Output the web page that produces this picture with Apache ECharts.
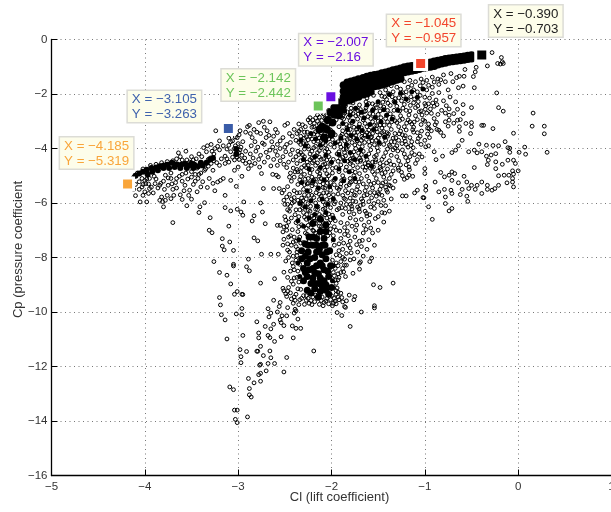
<!DOCTYPE html>
<html><head><meta charset="utf-8">
<script src="https://cdn.jsdelivr.net/npm/echarts@6/dist/echarts.min.js"></script>
<style>html,body{margin:0;padding:0;background:#fff}#c{width:611px;height:512px}</style></head>
<body><div id="c"></div>
<script>
// Values, as flat Cl,Cp pairs.
const lowerScatter=[-3.26,-8.15,-3.2,-8.55,-3.12,-8.65,-3.08,-8.97,-3.05,-8.25,-3.05,-8.31,-2.89,-8.06,-2.91,-8.34,-2.88,-8.49,-2.76,-8.94,-2.61,-8.78,-2.51,-8.54,-3.2,-9.47,-3.19,-9.74,-3.18,-10.1,-3.14,-10.29,-3.01,-9.25,-3.04,-9.35,-2.96,-9.35,-2.95,-9.36,-2.96,-9.87,-3.02,-10.07,-2.96,-10.1,-3.12,-10.99,-2.95,-10.86,-2.8,-10.36,-2.71,-10.53,-2.78,-10.77,-2.78,-10.95,-2.68,-10.86,-2.66,-10.94,-2.61,-11.08,-2.54,-10.91,-2.62,-10.45,-2.65,-10.62,-2.67,-10.18,-2.68,-9.88,-2.65,-10.04,-2.62,-9.57,-2.55,-9.65,-2.56,-9.8,-2.58,-10,-2.53,-10.14,-2.48,-10.14,-2.55,-10.29,-2.54,-10.39,-2.51,-10.5,-2.47,-9.84,-2.52,-9.13,-2.51,-9.22,-2.47,-9.24,-2.48,-9.43,-2.41,-9.68,-2.39,-9.9,-2.4,-10.04,-2.38,-9.96,-2.36,-10.26,-2.42,-10.51,-2.38,-10.6,-2.33,-10.6,-2.41,-10.95,-2.48,-11.67,-2.51,-12.2,-2.98,-11.38,-2.97,-11.64,-2.97,-11.86,-2.91,-11.45,-2.8,-11.44,-2.79,-11.44,-2.76,-11.26,-2.73,-11.6,-2.66,-11.43,-2.65,-11.68,-2.68,-11.89,-2.61,-11.89,-2.76,-11.92,-2.77,-11.95,-2.7,-12.16,-2.76,-12.25,-2.78,-12.3,-2.89,-12.44,-2.83,-12.6,-2.76,-12.54,-2.88,-12.81,-2.88,-13.04,-2.86,-13.12,-3.09,-12.75,-3.05,-12.85,-3.04,-13.6,-3.01,-13.6,-3.03,-13.94,-3.01,-14.06,-2.9,-13.85,-1.86,-8.06,-1.8,-8.09,-1.86,-8.28,-1.84,-8.28,-1.77,-8.58,-1.7,-8.43,-1.7,-8.21,-1.69,-8.16,-1.57,-8.02,-1.59,-8.15,-1.34,-8.94,-1.55,-9,-1.48,-9.1,-1.97,-8.67,-1.96,-8.83,-1.93,-8.82,-1.95,-9.22,-1.9,-9.31,-1.89,-9.47,-1.81,-9.38,-1.75,-9.43,-1.76,-9.55,-1.88,-9.63,-1.84,-9.59,-1.86,-9.8,-1.85,-9.83,-1.54,-9.77,-1.54,-9.85,-1.68,-10,-1.94,-10.02,-1.89,-10.13,-1.8,-10.53,-2.19,-11.43];
const rightScatter=[0.16,-2.7,0.15,-3.18,0.28,-3.18,0.28,-3.46,0.31,-4.14,0.07,-3.95,0.08,-4.21,0.01,-4.14,-0.23,-1.96,-0.21,-2.5,-0.16,-2.63,-0.27,-3.27,-0.05,-3.44,-0.14,-3.75,-0.09,-3.99,-0.09,-4.14,-0.47,-1.77,-0.59,-1.71,-0.64,-1.77,-0.63,-1.35,-0.58,-1.35,-0.48,-1.36,-0.46,-1.19,-0.45,-1.02,-0.57,-1.1,-0.33,-0.97,-0.22,-0.88,-0.18,-0.66,-0.17,-0.82,-0.16,-0.88,-0.19,-0.9,-0.28,-0.48,-0.67,-2.29,-0.59,-2.39,-0.65,-2.56,-0.5,-2.5,-0.59,-2.72,-0.65,-2.96,-0.62,-2.94,-0.69,-2.72,-0.74,-2.78,-0.39,-3.15,-0.37,-3.15,-0.56,-3.08,-0.5,-3.05,-0.5,-3.2,-0.63,-3.2,-0.63,-3.37,-0.74,-2.96,-0.78,-3.02,-0.75,-3.18,-0.8,-3.54,-0.87,-3.3,-0.85,-3.33,-0.51,-3.45,-0.6,-3.7,-0.64,-3.9,-0.67,-4.06,-0.71,-4.15,-0.53,-4.12,-0.47,-4.06,-0.44,-4.16,-0.39,-4.12,-0.42,-3.84,-0.34,-3.88,-0.27,-3.89,-0.21,-3.9,-0.11,-3.97,-0.34,-4.28,-0.29,-4.24,-0.24,-4.19,-0.32,-4.43,-0.33,-4.59,-0.24,-4.49,-0.24,-4.74,-0.17,-4.58,-0.11,-4.43,-0.05,-4.43,-0.03,-4.55,-0.06,-4.82,0,-4.82,-0.05,-4.94,-0.47,-4.7,-0.21,-5,-0.15,-4.98,-0.1,-4.98,-0.06,-5.1,-0.06,-5.23,-0.05,-5.41,-0.12,-5.26,-0.21,-5.35,-0.25,-5.47,-0.28,-5.53,-0.33,-5.35,-0.39,-5.23,-0.44,-5.35,-0.46,-5.5,-0.5,-5.35,-0.55,-5.23,-0.53,-5.47,-0.39,-5.65,-0.33,-5.5,-0.6,-5.5,-0.62,-5.69,-0.55,-5.75,-0.54,-5.94,-0.64,-5.26,-0.58,-5.02,-0.71,-4.86,-0.74,-4.98,-0.68,-4.92,-0.83,-4.88,-0.79,-5.04,-0.71,-5.17,-0.89,-5.23,-0.85,-5.59,-0.78,-5.78,-0.78,-6.02,-0.71,-6.2,-0.74,-6.29,-0.72,-5.53,-0.79,-5.5,-0.71,-5.65,-1.02,-5.8,-1.01,-5.81,-0.96,-6.14,-0.92,-6.6,-0.99,-5.53,-0.99,-5.38,-1.08,-5.53,-1.11,-5.63,-1.2,-5.74,-1.24,-5.74,-1,-4.92,-1,-4.74,-1.17,-4.68,-1.13,-5.02,-1.22,-5.13,-1.17,-4.98,-0.9,-4.12,-0.81,-4.28,-0.88,-4.41,-0.99,-3.94,-1.03,-4.31,-1.08,-4.41,-1.06,-4.2,-0.95,-3.6,-0.93,-3.35,-0.97,-3.25,-1.05,-3.55,-1.08,-3.42];
const wingScatter=[-4.1,-5.73,-4.05,-5.96,-3.98,-5.96,-4.03,-5.41,-3.99,-5.29,-3.95,-5.47,-3.91,-5.63,-4,-5.59,-3.96,-5.65,-3.89,-5.29,-4,-5.17,-4.06,-5.5,-4.02,-5.72,-3.93,-5.42,-3.82,-5.78,-3.78,-5.9,-3.8,-6.14,-3.72,-5.84,-3.76,-5.72,-3.69,-5.72,-3.84,-5.9,-3.81,-5.95,-3.7,-6.72,-3.6,-5.87,-3.5,-5.86,-3.55,-6.1,-3.41,-6.14,-3.42,-6.35,-3.36,-5.99,-3.3,-6.54,-3.31,-7,-3.28,-7.09,-3.17,-7.31,-3.17,-7.58,-3.15,-7.72,-3.09,-7.43,-3.05,-7.74,-3.1,-6.85,-3.14,-6.17,-3.08,-6.29,-3.01,-6.23,-2.97,-6.33,-2.95,-6.45,-2.94,-5.96,-3.14,-5.72,-3.25,-5.55,-3.02,-5.39,-3.08,-5.17,-3.19,-5.17,-3.22,-5.23,-3.16,-5.1,-3.27,-4.8,-3.33,-5.43,-3.4,-5.41,-3.44,-5.59,-3.52,-5.53,-2.85,-6.66,-2.83,-6.47,-2.74,-6.33,-2.76,-6,-2.71,-6.76,-2.58,-6.82,-2.55,-6.82,-2.52,-7.06,-2.83,-7.28,-2.79,-7.39,-2.65,-7.88,-2.75,-7.88,-2.52,-7.55,-2.57,-7.88,-2.51,-5.9,-2.5,-6.05,-2.73,-5.47,-2.62,-5.47,-2.56,-5.47,-2.51,-5.53,-2.53,-5.63,-2.48,-5.78,-2.75,-4.92,-2.65,-4.64,-2.63,-4.95,-2.59,-4.98,-2.57,-5.04,-2.51,-4.58,-2.44,-4.9,-2.39,-4.86,-2.89,-4.74,-3,-4.68,-2.96,-5.02,-3.04,-4.8,-3.1,-4.5,-3.14,-4.55,-3.2,-4.62,-3.26,-4.45,-3.32,-4.4,-3.38,-4.6,-3.44,-4.72,-3.42,-4.95,-3.5,-5.05,-3.56,-4.9,-3.6,-5.2,-3.66,-5.1,-3.71,-5.3,-3.75,-5.08,-3.8,-5.2,-3.84,-5.35,-3.66,-5.45,-3.58,-5.55,-3.48,-5.32,-3.38,-5.22,-3.31,-5.1,-3.27,-5.28,-3.72,-4.9,-3.78,-4.98,-3.9,-5.02,-3.95,-5.1,-4.03,-5.1,-4.06,-5.22,-4.1,-5.32,-4.12,-5.5,-3.62,-5.7,-3.53,-5.72,-3.46,-5.2,-3.36,-4.8,-3.42,-4.2,-3.37,-3.97,-3.33,-3.9,-3.29,-3.85,-3.25,-4,-3.2,-3.72,-3.24,-3.35,-3.14,-3.45,-3.1,-3.88,-3.06,-3.72,-3.04,-4,-3.01,-3.6,-2.98,-3.35,-2.95,-3.75,-2.9,-3.2,-2.88,-3.15,-2.92,-4.1,-2.85,-3.6,-2.8,-3.4,-2.78,-3.05,-2.73,-3,-2.72,-3.22,-2.66,-3.02,-2.69,-3.35,-2.74,-3.8,-2.82,-3.75,-2.64,-3.75,-2.6,-3.3,-2.52,-3.6,-2.5,-3.15,-2.47,-3.08,-2.44,-3.78,-2.38,-3.7,-2.33,-3.85,-2.29,-4.02,-2.93,-4.35,-2.87,-4.2,-2.81,-4.1,-2.76,-4.25,-2.7,-4.14,-2.66,-4.06,-2.6,-4.1,-2.55,-4,-2.49,-4.12,-2.44,-4.22,-2.38,-4.3,-3.02,-4.22,-3.08,-4.12,-3.14,-4.28,-3.2,-4.05,-3.26,-4.2,-3.3,-4.35,-3.45,-4.38,-3.5,-4.3,-3.55,-4.42,-3.62,-4.3,-3.64,-4.16,-3.56,-4.1,-2.98,-4.05,-2.99,-4.4,-2.95,-4.45,-3.04,-4.42,-2.88,-4.5,-2.82,-4.55,-2.72,-4.5,-2.62,-4.4,-2.55,-4.45,-2.46,-4.5,-2.37,-4.55,-2.32,-4.7,-2.34,-5.15,-2.3,-5.5,-2.26,-5.3,-2.4,-5.55,-2.43,-5.2,-2.47,-5.4];
const wingDense=[-3.98,-5.12,-3.96,-5.3,-4.02,-5.32,-3.88,-5.12,-3.86,-5.45,-3.83,-5.28,-3.79,-5.5,-3.75,-5.35,-3.72,-5.1,-3.7,-5.5,-3.67,-5.25,-3.63,-5.02,-3.6,-4.95,-3.57,-5.35,-3.54,-5.12,-3.5,-4.85,-3.46,-4.95,-3.43,-5.1,-3.4,-4.9,-3.35,-4.75,-3.32,-4.65,-3.29,-4.55,-3.23,-4.52,-3.18,-4.38,-3.12,-4.38,-3.06,-4.32,-3.01,-4.32,-2.99,-4.15,-2.96,-4.25,-3.03,-3.9,-3,-3.82,-2.97,-3.95,-3.12,-4.02,-3.16,-3.9,-3.22,-3.92,-3.28,-4.1,-3.34,-4.12,-3.39,-4.3,-3.48,-4.42,-3.52,-4.5,-3.6,-4.42,-3.66,-4.38,-3.7,-4.45,-3.76,-4.48,-3.82,-4.52,-3.88,-4.58,-3.94,-4.62,-4.02,-4.75,-4.08,-4.9,-4.12,-5.05,-3.08,-3.75,-3.03,-3.58,-3.1,-3.62,-2.99,-3.5,-2.92,-3.4,-2.87,-3.45,-2.83,-3.3,-2.76,-3.45,-2.7,-3.6,-2.67,-3.52,-2.62,-3.55,-2.58,-3.42,-2.55,-3.72,-2.48,-3.85,-2.42,-3.55,-2.37,-3.45,-2.86,-3.9,-2.79,-3.95,-2.72,-3.85,-2.63,-3.95,-2.58,-3.85,-2.5,-3.95,-2.42,-4.05,-2.36,-4.1,-2.84,-4.35,-2.78,-4.4,-2.68,-4.32,-2.58,-4.25,-2.52,-4.3,-2.41,-4.42,-2.35,-4.22,-2.92,-4.55,-2.86,-4.62,-2.77,-4.68,-2.58,-4.62,-2.48,-4.7,-2.41,-4.72,-2.36,-4.85,-2.45,-5.05,-2.4,-5.05,-2.36,-5.32,-2.32,-5.82,-2.45,-5.68,-2.4,-5.95,-2.44,-6.12,-2.38,-6.25,-2.43,-6.55,-2.38,-6.72,-2.47,-6.25,-2.48,-6.85,-2.42,-6.98,-2.46,-7.25,-2.4,-7.25,-2.43,-7.55,-2.38,-7.6,-2.41,-7.95];
const fanScatter=[-1.84,-2.15,-1.8,-2.3,-1.75,-2.55,-1.7,-2.4,-1.65,-2.65,-1.6,-2.35,-1.55,-2.55,-1.5,-2.75,-1.45,-2.3,-1.4,-2.6,-1.35,-2.1,-1.3,-2.45,-1.25,-2.25,-1.2,-2.6,-1.15,-2.1,-1.1,-2.5,-1.05,-2.05,-1,-2.35,-0.95,-2.15,-0.9,-2.45,-0.85,-1.95,-0.8,-2.25,-0.75,-1.85,-0.7,-1.55,-0.78,-1.55,-0.85,-1.65,-0.92,-1.75,-0.98,-1.85,-1.05,-1.7,-1.12,-1.85,-1.18,-1.75,-1.24,-1.95,-0.66,-1.4,-0.72,-1.25,-0.8,-1.3,-0.86,-1.45,-0.92,-1.38,-0.98,-1.5,-1.04,-1.45,-1.1,-1.55,-1.16,-1.5,-1.22,-1.55,-1.3,-1.75,-1.36,-1.7,-1.42,-1.85,-1.48,-1.95,-1.55,-2.05,-1.62,-2.15,-1.68,-2.05,-1.74,-2.1,-1.86,-2.7,-1.82,-2.85,-1.78,-3.05,-1.74,-2.8,-1.7,-3.1,-1.66,-2.95,-1.62,-3.2,-1.58,-2.9,-1.54,-3.15,-1.5,-3,-1.46,-3.25,-1.42,-2.9,-1.38,-3.15,-1.34,-2.85,-1.3,-3.05,-1.26,-2.8,-1.22,-3.2,-1.18,-2.95,-1.14,-3.1,-1.1,-2.8,-1.06,-2.65,-1.02,-2.95,-0.98,-2.7,-0.94,-2.55,-0.9,-2.9,-0.86,-2.75,-0.82,-2.6,-0.78,-2.7,-0.74,-2.55,-1.88,-3.35,-1.84,-3.5,-1.8,-3.3,-1.76,-3.6,-1.72,-3.4,-1.68,-3.7,-1.64,-3.5,-1.6,-3.75,-1.56,-3.45,-1.52,-3.7,-1.48,-3.5,-1.44,-3.85,-1.4,-3.55,-1.36,-3.75,-1.32,-3.45,-1.28,-3.7,-1.24,-3.5,-1.2,-3.85,-1.16,-3.6,-1.12,-3.4,-1.08,-3.75,-1.04,-3.85,-1,-3.7,-0.96,-3.9,-1.9,-3.95,-1.86,-4.15,-1.82,-3.9,-1.78,-4.25,-1.74,-4,-1.7,-4.35,-1.66,-4.1,-1.62,-4.4,-1.58,-4.05,-1.54,-4.3,-1.5,-4.1,-1.46,-4.4,-1.42,-4.15,-1.38,-4.45,-1.34,-4.05,-1.3,-4.3,-1.26,-4.6,-1.22,-4.2,-1.18,-4.45,-1.14,-4.15,-1.1,-4.55,-1.9,-4.6,-1.85,-4.8,-1.8,-4.55,-1.76,-5,-1.72,-4.7,-1.68,-5.1,-1.64,-4.8,-1.6,-5.2,-1.56,-4.85,-1.52,-5.1,-1.48,-4.7,-1.44,-5.05,-1.4,-4.75,-1.36,-4.95,-1.32,-5.2,-1.28,-4.8,-1.24,-5,-1.9,-5.3,-1.85,-5.55,-1.8,-5.25,-1.76,-5.7,-1.72,-5.4,-1.68,-5.85,-1.64,-5.55,-1.6,-5.95,-1.56,-5.45,-1.52,-5.75,-1.48,-5.5,-1.44,-5.9,-1.4,-5.6,-1.36,-5.85,-1.34,-5.45,-1.9,-6,-1.85,-6.2,-1.8,-6.05,-1.76,-6.4,-1.72,-6.15,-1.68,-6.6,-1.64,-6.3,-1.6,-6.7,-1.54,-6.2,-1.5,-6.5,-1.46,-6.35,-1.42,-6.1,-1.38,-6.3,-1.44,-6.7,-1.5,-7,-1.56,-7.1,-1.6,-7.35,-1.66,-7.1,-1.7,-7.4,-1.74,-7,-1.78,-6.85,-1.82,-7.2,-1.86,-6.9,-1.9,-7.3,-1.54,-7.55,-1.62,-7.7,-1.72,-7.8,-1.8,-7.65,-1.66,-7.95,-1.76,-8.05,-1.92,-7.75,-1.88,-8,-1.93,-8.3,-1.9,-8.55,-1.85,-8.7,-1.97,-9.5,-1.92,-9.55,-1.98,-9.68,-2.03,-9.7,-2.08,-9.65,-2.13,-9.72,-2.18,-9.62,-2.24,-9.68,-2.29,-9.72,-2.34,-9.55,-2.4,-9.45,-2.44,-9.3,-2.46,-9.1,-2.4,-8.75,-2.44,-8.5,-2.42,-8.2,-2.46,-8,-2.45,-7.8,-2.47,-7.5,-2.44,-7.2,-2.48,-7,-2.46,-6.7,-2.5,-6.5,-2.45,-6.3,-2.42,-6,-2.4,-5.8,-2.36,-5.9,-2.3,-6.1,-2.35,-6.5,-2.32,-6.8,-2.36,-7.05,-2.38,-7.4,-2.37,-7.8,-2.38,-8.1,-2.36,-8.5,-2.35,-8.9,-2.3,-9.4,-2.25,-9.5,-2.2,-9.45,-2.15,-9.5,-2.1,-9.45,-2.05,-9.5,-2,-9.4,-1.95,-9.35,-1.98,-9.1,-1.95,-8.95,-1.98,-8.55,-1.96,-8.4,-1.99,-8.1,-1.95,-7.9,-1.97,-7.55,-1.98,-7.2,-1.95,-7,-1.96,-6.65,-1.99,-6.45,-1.94,-6.25,-1.96,-5.95,-1.98,-5.7,-1.94,-5.45,-1.97,-5.15,-1.99,-4.9,-1.95,-4.7,-1.98,-4.4,-1.94,-4.2,-1.97,-3.95,-1.93,-3.75,-1.96,-3.5,-1.92,-3.2,-1.95,-2.95,-1.91,-2.75,-2.02,-7.1,-2.05,-6.9,-2.09,-7.15,-2.13,-6.85,-2.17,-7.1,-2.22,-6.9,-2.26,-7.15,-2.3,-7.45,-2.03,-6.4,-2.07,-6.2,-2.11,-6.5,-2.15,-6.25,-2.19,-6.55,-2.23,-6.3,-2.27,-6.6,-2.3,-6.35,-2.03,-5.7,-2.07,-5.45,-2.11,-5.75,-2.15,-5.5,-2.19,-5.8,-2.23,-5.55,-2.27,-5.85,-2.03,-5,-2.07,-4.8,-2.11,-5.1,-2.15,-4.85,-2.19,-5.15,-2.23,-4.9,-2.27,-4.7,-2.03,-4.3,-2.07,-4.1,-2.11,-4.4,-2.15,-4.15,-2.19,-4.45,-2.23,-4.2,-2.26,-4.5,-2.03,-3.65,-2.07,-3.45,-2.11,-3.7,-2.15,-3.5,-2.19,-3.75,-2.23,-3.55,-2.26,-3.4,-2.03,-3.1,-2.07,-2.9,-2.11,-3.15,-2.15,-3,-2.19,-3.2,-2.23,-3.05,-2.03,-2.6,-2.08,-2.75,-2.13,-2.85,-2.28,-3.2,-2.35,-3.1,-2.2,-2.95,-2.4,-3.3,-2.45,-3.45];
const fanDense=[-1.88,-2.52,-1.83,-2.66,-1.79,-2.52,-1.77,-2.72,-1.72,-2.6,-1.68,-2.78,-1.63,-2.5,-1.59,-2.72,-1.56,-2.36,-1.52,-2.5,-1.48,-2.62,-1.44,-2.48,-1.41,-2.2,-1.37,-2.42,-1.33,-2.6,-1.28,-2.14,-1.27,-2.62,-1.22,-2.38,-1.18,-2.24,-1.16,-2.62,-1.12,-2.32,-1.07,-2.28,-1.04,-2.62,-1,-2.12,-0.96,-2.36,-0.92,-1.98,-0.88,-2.22,-1.46,-2.08,-1.39,-1.98,-1.34,-1.92,-1.26,-1.82,-1.2,-1.92,-1.14,-1.68,-1.08,-1.92,-1.02,-1.58,-0.96,-1.68,-0.9,-1.56,-0.83,-1.48,-1.87,-2.92,-1.84,-3.12,-1.8,-2.98,-1.76,-3.22,-1.72,-2.92,-1.68,-3.24,-1.64,-3.08,-1.6,-3.32,-1.56,-3.02,-1.52,-3.28,-1.48,-3.14,-1.44,-3.38,-1.4,-3.02,-1.36,-3.3,-1.32,-2.98,-1.28,-3.2,-1.24,-2.92,-1.2,-3.32,-1.16,-3.02,-1.12,-3.22,-1.08,-2.94,-1.04,-3.12,-1,-3,-0.96,-3.1,-1.9,-3.55,-1.86,-3.72,-1.82,-3.42,-1.78,-3.78,-1.74,-3.52,-1.7,-3.82,-1.66,-3.62,-1.62,-3.42,-1.58,-3.6,-1.54,-3.86,-1.5,-3.62,-1.46,-3.42,-1.42,-3.7,-1.38,-3.88,-1.34,-3.62,-1.3,-3.9,-1.26,-3.36,-1.22,-3.62,-1.18,-3.95,-1.14,-3.75,-1.92,-4.12,-1.88,-4.32,-1.84,-4.02,-1.8,-4.4,-1.76,-4.12,-1.72,-4.5,-1.68,-4.22,-1.64,-4.55,-1.6,-4.2,-1.56,-4.5,-1.52,-4.25,-1.48,-4.55,-1.44,-4.3,-1.4,-4.02,-1.36,-4.25,-1.32,-3.98,-1.28,-4.45,-1.24,-4.05,-1.2,-4.6,-1.16,-4.3,-1.92,-4.85,-1.88,-5,-1.84,-4.68,-1.8,-5.1,-1.78,-4.82,-1.74,-5.22,-1.7,-4.92,-1.66,-5.3,-1.62,-5.02,-1.58,-5.32,-1.54,-4.95,-1.5,-5.25,-1.46,-4.92,-1.42,-5.22,-1.38,-5.1,-1.34,-4.82,-1.92,-5.5,-1.88,-5.72,-1.84,-5.38,-1.8,-5.82,-1.78,-5.55,-1.74,-5.95,-1.7,-5.6,-1.66,-6.05,-1.62,-5.7,-1.58,-6.15,-1.54,-5.62,-1.5,-5.95,-1.46,-5.72,-1.42,-5.42,-1.92,-6.2,-1.88,-6.42,-1.84,-6.05,-1.8,-6.55,-1.78,-6.22,-1.74,-6.62,-1.7,-6.32,-1.65,-6.82,-1.62,-6.48,-1.58,-6.92,-1.9,-6.72,-1.86,-7.15,-1.83,-6.75,-1.8,-7.4,-1.75,-7.25,-1.68,-7.6,-1.92,-7.5,-1.88,-7.7,-1.84,-7.85,-1.82,-7.55,-1.9,-8.15,-1.88,-8.4,-2.01,-2.82,-2.05,-3.02,-2.09,-2.72,-2.13,-3.1,-2.17,-2.88,-2.21,-3.22,-2.25,-2.95,-2.29,-3.4,-2.33,-3.3,-2.01,-3.32,-2.05,-3.58,-2.09,-3.32,-2.13,-3.62,-2.17,-3.38,-2.21,-3.65,-2.25,-3.68,-2.29,-3.62,-2.33,-3.55,-2.01,-3.85,-2.05,-4.02,-2.09,-3.82,-2.13,-4.08,-2.17,-3.92,-2.21,-4.1,-2.25,-3.92,-2.3,-3.82,-2.33,-4.15,-2.01,-4.55,-2.05,-4.42,-2.09,-4.6,-2.13,-4.32,-2.17,-4.62,-2.21,-4.35,-2.25,-4.62,-2.29,-4.3,-2.33,-4.45,-2.01,-5.25,-2.05,-5.12,-2.09,-5.3,-2.13,-5.02,-2.17,-5.32,-2.21,-5.05,-2.25,-5.1,-2.29,-4.95,-2.33,-4.85,-2.01,-5.9,-2.05,-5.62,-2.09,-5.95,-2.13,-5.68,-2.17,-6,-2.21,-5.72,-2.25,-6.02,-2.29,-5.7,-2.34,-5.62,-2.01,-6.62,-2.05,-6.55,-2.09,-6.72,-2.13,-6.42,-2.17,-6.75,-2.21,-6.48,-2.25,-6.82,-2.29,-6.52,-2.34,-6.25,-2.01,-6.95,-2.04,-7.2,-2.1,-6.95,-2.15,-7.2,-2.2,-7,-2.24,-7.4,-2.28,-7.1,-2.34,-7.25,-2.36,-7.7,-2.34,-8.25,-2.4,-8.45,-2.41,-8.98,-2.36,-9.15,-2.38,-9.35,-2.32,-9.5,-2.27,-9.4,-2.22,-9.58,-2.17,-9.38,-2.11,-9.58,-2.06,-9.6,-2.01,-9.55,-1.96,-9.6,-1.93,-9.45,-1.94,-9.12,-1.93,-8.6,-1.95,-8.2];
const fanExtra=[-1.93,-2.61,-1.89,-2.87,-1.85,-2.43,-1.81,-3.17,-1.77,-2.33,-1.73,-3.29,-1.69,-2.57,-1.67,-3.43,-1.63,-2.29,-1.61,-2.83,-1.57,-3.57,-1.53,-2.41,-1.51,-3.39,-1.47,-2.87,-1.43,-2.11,-1.39,-3.47,-1.37,-2.73,-1.33,-2.27,-1.31,-3.61,-1.27,-2.97,-1.23,-2.07,-1.21,-3.53,-1.17,-2.77,-1.13,-3.31,-1.11,-2.19,-1.07,-3.63,-1.03,-2.77,-0.99,-2.43,-0.97,-3.47,-0.93,-2.71,-0.89,-3.13,-0.87,-2.39,-0.83,-3.41,-0.77,-2.43,-0.73,-2.11,-0.69,-3.07,-1.91,-3.83,-1.87,-4.03,-1.83,-3.67,-1.79,-4.47,-1.75,-3.87,-1.71,-4.17,-1.67,-3.93,-1.63,-4.69,-1.59,-3.89,-1.55,-4.67,-1.51,-3.97,-1.47,-4.77,-1.43,-3.59,-1.41,-4.53,-1.37,-3.93,-1.33,-4.61,-1.29,-4.09,-1.25,-4.87,-1.21,-3.73,-1.19,-5.07,-1.15,-3.89,-1.11,-4.23,-1.93,-4.47,-1.89,-5.17,-1.85,-4.27,-1.81,-5.33,-1.77,-4.63,-1.73,-5.51,-1.69,-4.47,-1.65,-5.73,-1.61,-4.61,-1.57,-5.81,-1.53,-4.49,-1.49,-5.67,-1.45,-5.27,-1.41,-5.53,-1.37,-5.37,-1.93,-5.67,-1.89,-6.17,-1.85,-5.87,-1.81,-6.33,-1.77,-5.93,-1.73,-6.81,-1.69,-6.09,-1.63,-6.97,-1.59,-6.43,-1.53,-6.57,-1.47,-6.09,-1.43,-6.37,-1.91,-7.03,-1.87,-7.47,-1.83,-7.03,-1.79,-7.83,-1.73,-7.53,-1.67,-7.37,-1.91,-7.93,-1.87,-8.53,-1.92,-8.73,-1.93,-9.27,-2.35,-3.37,-2.31,-3.13,-2.27,-3.57,-2.23,-2.87,-2.19,-3.47,-2.15,-2.77,-2.11,-3.43,-2.07,-3.19,-2.03,-2.87,-1.99,-3.67,-2.35,-3.77,-2.31,-4.23,-2.27,-3.83,-2.23,-4.41,-2.19,-3.97,-2.15,-4.53,-2.11,-3.97,-2.07,-4.57,-2.03,-4.13,-1.99,-4.73,-2.37,-4.77,-2.33,-5.03,-2.29,-4.63,-2.25,-5.27,-2.21,-4.77,-2.17,-5.13,-2.13,-4.77,-2.09,-5.43,-2.05,-4.93,-2.01,-5.53,-1.97,-5.33,-2.37,-5.63,-2.33,-5.97,-2.29,-5.33,-2.25,-6.27,-2.21,-5.37,-2.17,-6.23,-2.13,-5.87,-2.09,-6.23,-2.05,-5.87,-2.01,-6.17,-1.97,-6.03,-2.39,-6.43,-2.35,-6.87,-2.31,-6.17,-2.27,-6.93,-2.23,-6.67,-2.19,-7.03,-2.15,-6.57,-2.11,-6.87,-2.07,-6.43,-2.03,-6.73,-1.97,-6.87,-2.41,-7.43,-2.37,-7.93,-2.33,-7.47,-2.41,-8.33,-2.37,-8.73,-2.33,-9.17,-2.43,-8.87,-2.39,-9.57,-2.35,-9.73,-2.27,-9.57,-2.21,-9.73,-2.09,-9.77,-1.99,-9.77,-1.95,-9.7,-2.43,-5.85,-2.47,-6.05,-2.49,-6.63,-2.51,-6.88,-2.47,-7.73,-2.51,-7.33,-2.49,-8.13,-2.47,-8.73,-2.43,-9.52,-2.49,-9.33];
const fanFill=[-1.875,-2.77,-1.835,-3.24,-1.795,-2.66,-1.755,-3.42,-1.715,-2.74,-1.675,-3.56,-1.635,-2.62,-1.595,-3.48,-1.555,-2.74,-1.515,-3.16,-1.475,-2.44,-1.435,-3.14,-1.395,-2.34,-1.355,-3.02,-1.315,-2.17,-1.275,-3.46,-1.235,-2.52,-1.195,-3.07,-1.155,-2.42,-1.115,-3.03,-1.075,-2.44,-1.035,-3.36,-0.995,-2.56,-0.955,-3.27,-0.915,-2.33,-0.875,-3.04,-1.885,-3.48,-1.845,-3.96,-1.805,-3.63,-1.765,-4.34,-1.725,-3.72,-1.685,-4.42,-1.645,-3.78,-1.605,-4.52,-1.565,-3.72,-1.525,-4.41,-1.485,-3.83,-1.445,-4.62,-1.405,-3.42,-1.365,-4.58,-1.325,-3.76,-1.285,-4.72,-1.245,-3.82,-1.205,-4.33,-1.165,-4.78,-1.125,-3.97,-1.905,-4.37,-1.865,-5.12,-1.825,-4.47,-1.785,-5.22,-1.745,-4.87,-1.705,-5.23,-1.665,-4.68,-1.625,-5.42,-1.585,-4.72,-1.545,-5.27,-1.505,-4.83,-1.465,-5.37,-1.425,-4.88,-1.385,-5.34,-1.905,-5.42,-1.865,-5.83,-1.825,-5.63,-1.785,-6.12,-1.745,-5.72,-1.705,-6.22,-1.665,-5.93,-1.625,-6.38,-1.585,-5.62,-1.545,-6.02,-1.505,-5.62,-2.185,-3.08,-2.145,-3.73,-2.105,-2.97,-2.065,-3.87,-2.025,-3.38,-2.245,-4.02,-2.205,-4.52,-2.165,-4.27,-2.125,-4.93,-2.085,-4.38,-2.045,-4.67,-2.285,-5.13,-2.245,-5.72,-2.205,-5.27,-2.165,-5.62,-2.125,-5.22,-2.085,-5.63,-2.045,-5.27,-2.305,-5.92,-2.265,-6.42,-2.225,-6.12,-2.185,-6.67,-2.145,-6.13,-2.105,-6.63,-2.065,-6.07];
const denseFan=[-1.86,-2.62,-1.8,-2.78,-1.74,-2.52,-1.68,-2.67,-1.62,-2.4,-1.56,-2.6,-1.5,-2.28,-1.44,-2.58,-1.38,-2.02,-1.32,-2.3,-1.26,-1.97,-1.2,-2.18,-1.14,-1.92,-1.08,-2.12,-1.02,-1.82,-1.88,-3.08,-1.83,-3.3,-1.77,-3,-1.71,-3.22,-1.65,-2.88,-1.59,-3.12,-1.53,-2.86,-1.47,-3.02,-1.41,-2.78,-1.35,-2.92,-1.29,-2.6,-1.9,-3.62,-1.84,-3.85,-1.79,-3.52,-1.73,-3.65,-1.67,-3.34,-1.61,-3.57,-1.55,-3.3,-1.49,-3.78,-1.43,-3.58,-1.92,-4.22,-1.86,-4.45,-1.8,-4.15,-1.75,-4.4,-1.69,-4.05,-1.63,-4.28,-1.57,-4.65,-1.92,-4.75,-1.87,-5.18,-1.81,-4.85,-1.75,-5.1,-2.33,-3.7,-2.28,-3.9,-2.22,-3.45,-2.17,-3.65,-2.12,-3.88,-2.06,-3.72,-2,-3.55,-1.96,-3.8,-2.3,-4.4,-2.24,-4.75,-2.18,-4.3,-2.12,-4.7,-2.06,-4.25,-2,-4.5,-2.32,-5.25,-2.26,-5.55,-2.2,-5.2,-2.14,-5.45,-2.08,-5.15,-2.02,-5.4,-1.96,-5.1,-2.34,-6.02,-2.28,-6.15,-2.22,-5.92,-2.16,-6.12,-2.1,-5.85,-2.04,-6.05,-1.98,-5.85,-2.36,-6.65,-2.3,-6.85,-2.24,-6.55,-2.18,-6.42,-2.06,-6.35,-1.98,-6.55,-2.35,-7.35,-1.98,-7.35,-2.36,-8.2,-1.98,-8.3,-2.34,-8.7,-1.99,-8.85];
const denseBand=[-1.87,-1.68,-1.83,-1.58,-1.79,-1.54,-1.75,-1.5,-1.71,-1.46,-1.66,-1.41,-1.62,-1.37,-1.58,-1.33,-1.54,-1.3,-1.5,-1.28,-1.46,-1.24,-1.42,-1.21,-1.38,-1.17,-1.34,-1.13,-1.3,-1.1,-1.26,-1.06,-1.22,-1.02,-1.18,-0.99,-1.14,-0.97,-1.1,-0.95,-1.06,-0.92,-1.02,-0.88,-0.98,-0.86,-0.94,-0.84,-0.9,-0.81,-0.86,-0.78,-0.82,-0.75,-0.78,-0.72,-0.74,-0.7,-0.7,-0.68,-0.66,-0.66,-0.62,-0.64,-0.58,-0.62,-0.54,-0.6,-0.5,-0.58,-1.87,-1.9,-1.83,-1.8,-1.79,-1.76,-1.75,-1.72,-1.71,-1.68,-1.66,-1.63,-1.62,-1.59,-1.58,-1.55,-1.54,-1.52,-1.5,-1.5,-1.46,-1.46,-1.42,-1.43,-1.38,-1.39,-1.34,-1.35,-1.3,-1.3,-1.26,-1.25,-1.22,-1.2,-1.18,-1.17,-1.14,-1.15,-1.1,-1.12,-1.06,-1.08,-1.02,-1.04,-0.98,-1.02,-0.94,-1,-0.9,-0.97,-0.86,-0.92,-0.82,-0.88,-0.78,-0.85,-0.74,-0.82,-0.7,-0.8,-0.66,-0.78,-0.62,-0.76,-0.58,-0.74,-0.54,-0.72,-0.5,-0.7,-1.87,-2.12,-1.83,-2.02,-1.79,-1.98,-1.75,-1.94,-1.71,-1.9,-1.66,-1.85,-1.62,-1.8,-1.58,-1.75,-1.54,-1.72,-1.5,-1.7,-1.46,-1.66,-1.42,-1.62,-1.38,-1.56,-1.34,-1.52,-1.3,-1.48,-1.26,-1.44,-1.87,-2.34,-1.83,-2.24,-1.79,-2.2,-1.75,-2.14,-1.71,-2.1,-1.66,-2.02,-1.62,-1.98,-1.58,-1.92,-1.93,-2.3,-1.93,-2.55,-1.97,-2.5,-1.92,-2.78,-1.97,-2.75,-2.01,-2.68,-1.88,-2.55,-2.04,-2.95,-1.99,-3.05,-2.05,-3.3,-2.1,-3.2,-2,-3.45,-2.08,-3.6,-2.13,-3.3];
const denseCore=[-2.3,-8.4,-2.26,-8.7,-2.22,-8.95,-2.18,-9.15,-2.12,-9.25,-2.06,-9.2,-2,-9.1,-2.26,-8.2,-2.2,-8.4,-2.14,-8.6,-2.08,-8.85,-2.2,-8.75,-2.14,-8.95,-2.08,-8.45,-2.03,-8.7,-2.25,-7.8,-2.18,-8,-2.12,-8.2,-2.06,-8.05,-2.01,-8.3,-2.28,-7.5,-2.2,-7.55,-2.13,-7.7,-2.07,-7.55,-2.02,-7.75,-2.24,-7.25,-2.16,-7.3,-2.08,-7.3,-2.32,-8.05,-2.32,-7.75,-2.3,-8.85,-2.26,-9.2,-2.03,-9.35,-2.14,-9.45,-2.28,-8.55,-2.24,-8.45,-2.16,-8.3,-2.1,-8.3,-2.23,-8.05,-2.16,-7.8,-2.1,-7.9,-2.04,-8.5,-2.18,-8.55,-2.12,-8.75,-2.06,-9,-2.18,-8.95,-2.22,-9.3,-2.1,-9.05,-2.25,-7.55,-2.16,-7.55,-2.1,-7.55,-2.05,-7.8,-2.28,-7.95,-2.2,-7.25,-2.12,-7.05,-2.06,-7.05,-2.2,-6.75,-2.12,-6.6,-2.06,-6.8];
const wingBand=[-4.1,-5,-4.06,-4.92,-4.02,-4.85,-3.98,-4.78,-3.93,-4.72,-3.88,-4.7,-3.84,-4.65,-3.8,-4.62,-3.76,-4.6,-3.71,-4.52,-3.66,-4.58,-3.61,-4.6,-3.57,-4.56,-3.53,-4.62,-3.74,-4.72,-3.68,-4.68,-3.86,-4.8,-3.97,-4.95,-3.43,-4.65,-3.38,-4.62,-3.3,-4.4,-3.27,-4.35,-3.5,-4.55,-3.92,-4.85,-3.8,-4.72,-3.62,-4.72,-3.55,-4.72,-3.47,-4.6,-3.4,-4.52,-3.34,-4.52,-3.48,-4.72,-3.02,-4.02,-3.02,-4.2];
const markerCl=[-4.185,-3.105,-2.142,-2.007,-1.045,-0.39];
const markerCp=[-5.3,-3.263,-2.442,-2.1,-0.88,-0.57];
const markerXText=['−4.185','−3.105','−2.142','−2.007','−1.045','−0.390'];
const markerYText=['−5.319','−3.263','−2.442','−2.16','−0.957','−0.703'];
const markerColors=['#f9a53a','#3a5ca8','#6cc45a','#6a0fe0','#f2452c','#000000'];
const labelColors=['#f9a53a','#3f62ad','#6cc45a','#6a0fe0','#f2452c','#222222'];
const labelOffsets=[[-60,-39],[-93,-30],[-89,-29],[-24,-55],[-26,-41],[15,-42]];

const pairs=a=>{const r=[];for(let i=0;i<a.length;i+=2)r.push([a[i],a[i+1]]);return r;};
const minus=v=>String(v).replace('-','−');
const hollow=pairs([...lowerScatter,...rightScatter,...wingScatter,...wingDense,...fanScatter,...fanDense,...fanExtra,...fanFill]);
const FONT='"Liberation Sans",Arial,sans-serif';
const dots={show:true,lineStyle:{color:'#777',type:[1,3.5],width:1}};
const chart=echarts.init(document.getElementById('c'),null,{renderer:'canvas'});
chart.setOption({
  animation:false,backgroundColor:'#fff',
  grid:{left:51.5,top:39.5,width:560,height:436,containLabel:false,outerBoundsMode:'none'},
  xAxis:{type:'value',min:-5,max:1,interval:1,name:'Cl (lift coefficient)',nameLocation:'middle',nameGap:15,nameMoveOverlap:false,
    nameTextStyle:{fontFamily:FONT,fontSize:13,color:'#333',padding:[0,0,0,16]},
    axisLine:{onZero:false,lineStyle:{color:'#000',width:1.3}},
    axisTick:{inside:true,length:6,lineStyle:{color:'#000',width:1}},
    axisLabel:{fontFamily:FONT,fontSize:11.5,color:'#333',margin:5,hideOverlap:false,showMinLabel:true,showMaxLabel:true,formatter:v=>minus(v)},
    splitLine:dots},
  yAxis:{type:'value',min:-16,max:0,interval:2,name:'Cp (pressure coefficient',nameLocation:'middle',nameGap:27,nameMoveOverlap:false,
    nameTextStyle:{fontFamily:FONT,fontSize:13,color:'#333',padding:[0,0,0,16]},
    axisLine:{onZero:false,lineStyle:{color:'#000',width:1.3}},
    axisTick:{inside:true,length:6,lineStyle:{color:'#000',width:1}},
    axisLabel:{fontFamily:FONT,fontSize:11.5,color:'#333',margin:4,showMinLabel:true,showMaxLabel:true,formatter:v=>minus(v)},
    splitLine:dots},
  series:[
    {type:'scatter',data:pairs(denseCore),symbol:'circle',symbolSize:7,silent:true,z:3,itemStyle:{color:'#000',opacity:1}},
    {type:'scatter',data:pairs(denseFan),symbol:'circle',symbolSize:5,silent:true,z:3,itemStyle:{color:'#000',opacity:1}},
    {type:'scatter',data:hollow,symbol:'circle',symbolSize:3.8,silent:true,z:3,
      itemStyle:{color:'rgba(255,255,255,0)',borderColor:'#000',borderWidth:1,opacity:1}},
    {type:'scatter',data:pairs(denseBand),symbol:'circle',symbolSize:8,silent:true,z:4,itemStyle:{color:'#000',opacity:1}},
    {type:'scatter',data:pairs(wingBand),symbol:'circle',symbolSize:6,silent:true,z:4,itemStyle:{color:'#000',opacity:1}},
    {type:'scatter',silent:true,z:6,symbol:'rect',symbolSize:12,
      data:markerCl.map((x,i)=>({value:[x,markerCp[i]],
        itemStyle:{color:markerColors[i],borderColor:'#fff',borderWidth:3,opacity:1},
        label:{show:true,position:labelOffsets[i],align:'left',verticalAlign:'top',
          formatter:'X = '+markerXText[i]+'\nY = '+markerYText[i],
          fontFamily:FONT,fontSize:13.3,lineHeight:15,color:labelColors[i],
          backgroundColor:'#fdfdea',borderColor:'#dcdcd6',borderWidth:1.5,padding:[1,4,0,4]}}))}
  ]
});
</script></body></html>
